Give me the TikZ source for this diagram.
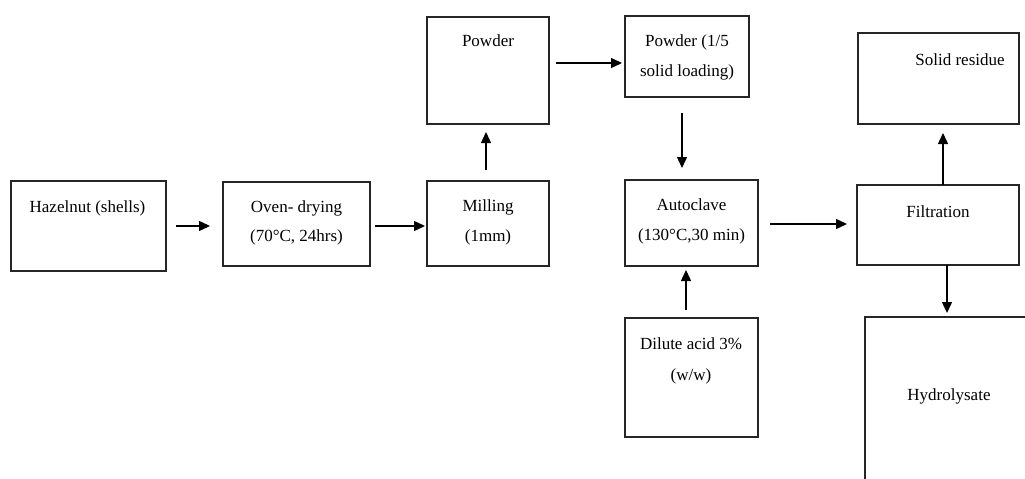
\documentclass[tikz,border=0pt]{standalone}
\usepackage{fontspec}
\setmainfont{Liberation Serif}
\usetikzlibrary{arrows.meta}
\begin{document}
\begin{tikzpicture}[x=1pt,y=-1pt,
  box/.style={draw=black!85,line width=1.3pt,rectangle,inner sep=0pt,outer sep=0pt},
  txt/.style={font=\fontsize{17}{20}\selectfont,anchor=base,inner sep=0pt,text=black},
  arr/.style={draw=black,line width=1.4pt,-{Triangle[length=11pt,width=10pt]}}]
\useasboundingbox (0,0) rectangle (1025,479);
\fill[white] (0,0) rectangle (1025,479);
% boxes
\node[box,minimum width=155pt,minimum height=90pt] (haz) at (88.5,226) {};
\node[box,minimum width=147pt,minimum height=84pt] (oven) at (296.5,224) {};
\node[box,minimum width=122pt,minimum height=85pt] (mill) at (488,223.5) {};
\node[box,minimum width=122pt,minimum height=107pt] (pow) at (488,70.5) {};
\node[box,minimum width=124pt,minimum height=81pt] (powb) at (687,56.5) {};
\node[box,minimum width=133pt,minimum height=86pt] (auto) at (691.5,223) {};
\node[box,minimum width=133pt,minimum height=119pt] (dil) at (691.5,377.5) {};
\node[box,minimum width=162pt,minimum height=80pt] (filt) at (938,225) {};
\node[box,minimum width=161pt,minimum height=91pt] (solid) at (938.5,78.5) {};
\begin{scope}
\clip (0,0) rectangle (1025,479);
\node[box,minimum width=200pt,minimum height=200pt,anchor=north west] (hyd) at (865,317) {};
\end{scope}
% texts
\node[txt] (thaz) at (87.5,212) {Hazelnut (shells)};
\node[txt] (tovena) at (296.5,212) {Oven- drying};
\node[txt] (tovenb) at (296.5,241.5) {(70°C, 24hrs)};
\node[txt] (tmilla) at (488,211.5) {Milling};
\node[txt] (tmillb) at (488,241.5) {(1mm)};
\node[txt] (tpow) at (488,46.5) {Powder};
\node[txt] (tpowba) at (687,46) {Powder (1/5};
\node[txt] (tpowbb) at (687,76.5) {solid loading)};
\node[txt] (tautoa) at (691.5,210.5) {Autoclave};
\node[txt] (tautob) at (691.5,240.5) {(130°C,30 min)};
\node[txt] (tdila) at (691,349) {Dilute acid 3\%};
\node[txt] (tdilb) at (691,380) {(w/w)};
\node[txt] (tsolid) at (960,65) {Solid residue};
\node[txt] (tfilt) at (938,217.5) {Filtration};
\node[txt] (thyd) at (949,400.5) {Hydrolysate};
% arrows
\draw[arr,shorten <=10pt,shorten >=13pt] (haz.east) -- (haz.east -| oven.west);
\draw[arr,shorten <=5pt,shorten >=2pt] ([yshift=-2pt]oven.east) -- ([yshift=-2pt]oven.east -| mill.west);
\draw[arr,shorten <=11pt,shorten >=8pt] ([xshift=-2pt]mill.north) -- ([xshift=-2pt]mill.north |- pow.south);
\draw[arr,shorten <=7pt,shorten >=3pt] ([yshift=7.5pt]pow.east) -- ([yshift=7.5pt]pow.east -| powb.west);
\draw[arr,shorten <=16pt,shorten >=12pt] ([xshift=-5pt]powb.south) -- ([xshift=-5pt]powb.south |- auto.north);
\draw[arr,shorten <=8pt,shorten >=4pt] ([xshift=-5.5pt]dil.north) -- ([xshift=-5.5pt]dil.north |- auto.south);
\draw[arr,shorten <=12pt,shorten >=10pt] ([yshift=-1pt]auto.east) -- ([yshift=-1pt]auto.east -| filt.west);
\draw[arr,shorten >=9pt] ([xshift=5pt]filt.north) -- ([xshift=5pt]filt.north |- solid.south);
\draw[arr,shorten >=4pt] ([xshift=9pt]filt.south) -- ([xshift=9pt]filt.south |- hyd.north);
\end{tikzpicture}
\end{document}
